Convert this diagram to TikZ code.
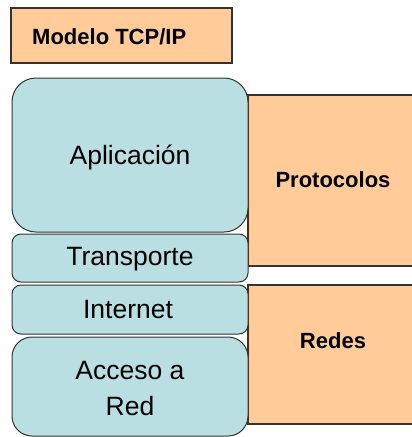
\documentclass[tikz,border=0pt]{standalone}
\usepackage{fontspec}
\setmainfont{Liberation Sans}
\definecolor{peach}{HTML}{FFCC99}
\definecolor{teal}{HTML}{B9DFE2}
\definecolor{edge}{HTML}{333333}
\begin{document}
\begin{tikzpicture}[x=1pt,y=-1pt,
  orangebox/.style={draw=edge,line width=1.3pt,fill=peach},
  layer/.style={draw=edge,line width=1pt,fill=teal},
  lbl/.style={font=\fontsize{26.5}{36}\selectfont,align=center,inner sep=0pt},
  blbl/.style={font=\fontsize{22}{24}\selectfont\bfseries,inner sep=0pt}]
\useasboundingbox (0,0) rectangle (412,437);
% title
\draw[orangebox] (11,8) rectangle (232,63);
\node[blbl,anchor=west] (title) at (32,37) {Modelo TCP/IP};
% right boxes
\draw[orangebox] (248,95) rectangle (420,266);
\node[blbl] (prot) at (333,180) {Protocolos};
\draw[orangebox] (248,285) rectangle (420,424);
\node[blbl] (redes) at (333,341) {Redes};
% layers
\draw[layer,rounded corners=24pt] (12,78) rectangle (248,232);
\node[lbl] (apl) at (130,157) {Aplicación};
\draw[layer,rounded corners=9pt] (12,234) rectangle (248,282);
\node[lbl] (tra) at (130,259) {Transporte};
\draw[layer,rounded corners=9pt] (12,285) rectangle (248,334);
\node[lbl] (int) at (128,310) {Internet};
\draw[layer,rounded corners=20pt] (12,337) rectangle (248,436);
\node[lbl] (acc) at (130,389) {Acceso a\\Red};
\end{tikzpicture}
\end{document}
